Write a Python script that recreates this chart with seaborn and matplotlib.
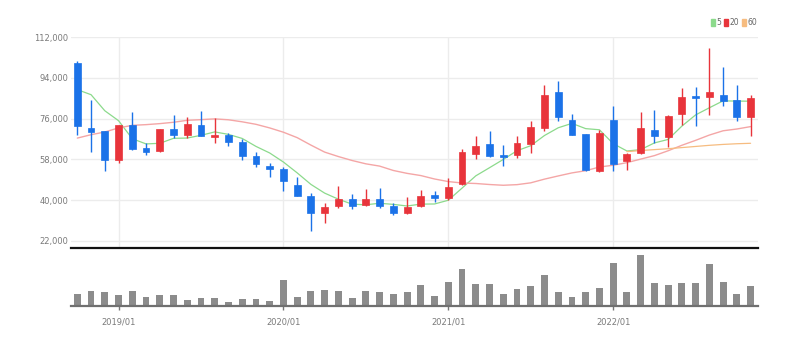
import numpy as np
import pandas as pd
import matplotlib
matplotlib.use("Agg")
import matplotlib.pyplot as plt
from matplotlib.patches import Patch
from matplotlib.ticker import FuncFormatter
import seaborn as sns

# Monthly candles, 2018/10 .. 2022/11
months = pd.period_range("2018-10", "2022-11", freq="M")

opens = [100640, 71875, 70550, 57870, 73200, 62870, 61700, 71580, 68630, 73350,
         68100, 68630, 65530, 59480, 55210, 53880, 46500, 41640, 34110, 37210,
         40450, 37660, 40600, 37210, 34260, 37210, 42380, 40900, 47240, 60370,
         64940, 60080, 60080, 64790, 71880, 87800, 75560, 69220, 52700, 75410,
         57420, 60810, 71140, 67740, 78220, 86180, 85600, 86630, 84270, 76740]
closes = [72610, 69960, 57570, 73050, 62435, 61100, 71285, 68630, 73650, 68480,
          68630, 65830, 59630, 56090, 53880, 48570, 41930, 34110, 36770, 40450,
          37510, 40600, 37510, 34260, 36920, 41640, 40900, 45770, 61100, 64060,
          59630, 59190, 65090, 72170, 86630, 76740, 68930, 53440, 69660, 55940,
          60520, 71880, 68330, 77330, 85450, 85300, 87660, 83680, 76740, 85300]
highs = [101670, 84410, 70700, 73400, 78950, 65240, 71400, 77780, 76600, 79250,
         76300, 69660, 67150, 61260, 56240, 54470, 50050, 43110, 38690, 46060,
         42670, 44880, 45330, 38690, 41200, 44590, 43850, 49750, 62580, 68480,
         70400, 64200, 68180, 75120, 91050, 92530, 78070, 69220, 71140, 81760,
         60960, 78800, 79990, 77780, 89580, 90020, 107270, 98720, 91050, 86630]
lows = [68930, 61260, 52700, 56400, 62000, 60080, 61250, 67450, 67450, 68200,
        65240, 64060, 57860, 54620, 50050, 43850, 41640, 26150, 29840, 36480,
        36180, 37210, 36480, 33520, 33970, 36920, 39130, 40160, 46800, 58160,
        59190, 54910, 58600, 60810, 70400, 75120, 68630, 53000, 52260, 52700,
        53440, 60370, 65240, 63320, 73350, 72610, 77780, 81460, 74830, 68480]

# Moving averages of the close (5, 20 and 60 months)
ma5 = [88840, 86600, 79500, 75100, 67125, 64823, 65088, 67300, 67420, 68629,
       70135, 69044, 67244, 63732, 60812, 56800, 52020, 46916, 43052, 40366,
       38154, 37888, 38568, 38066, 37360, 38186, 38246, 39898, 45266, 50694,
       54292, 57950, 61814, 64028, 68542, 71964, 73912, 71582, 71080, 64942,
       61698, 62288, 65266, 66800, 72702, 77658, 80814, 83884, 83766, 83736]
ma20 = [67400, 68900, 70100, 71900, 73050, 73350, 73800, 74400, 75270, 75560,
        75900, 75500, 74600, 73500, 71900, 70000, 67600, 64300, 61200, 59233,
        57478, 56010, 55007, 53068, 51792, 50819, 49300, 48157, 47529, 47308,
        46858, 46526, 46799, 47603, 49241, 50649, 51999, 52966, 54610, 55385,
        56535, 58099, 59640, 61794, 64220, 66403, 68741, 70637, 71419, 72481]
ma60 = [61400, 61900, 62300, 62700, 63200, 63700, 64200, 64600, 64900, 65100]
ma60_start = 40

# Monthly trading volume (thousand shares)
volume = [36, 46, 41, 32, 46, 27, 32, 32, 17, 25,
          25, 13, 22, 20, 16, 78, 27, 46, 49, 44,
          25, 44, 41, 35, 41, 63, 29, 71, 111, 65,
          67, 35, 50, 59, 93, 41, 27, 41, 55, 129,
          43, 154, 69, 62, 69, 69, 125, 72, 35, 59]

price_ticks = [22000, 40000, 58000, 76000, 94000, 112000]

RED = "#e8343b"
BLUE = "#1b72e8"
GREEN = "#8cda8c"
PINK = "#f4a6a6"
ORANGE = "#f6bc80"
GRID = "#ececec"
LABEL = "#7a7a7a"

sns.set_theme(style="white")
plt.rcParams["font.family"] = ["Liberation Sans Narrow", "DejaVu Sans"]

W, H = 804, 344
fig = plt.figure(figsize=(W / 100, H / 100), dpi=100)
ax = fig.add_axes([71 / W, 1 - 247.5 / H, 687 / W, 210.2 / H])
axv = fig.add_axes([71 / W, 1 - 306 / H, 687 / W, 56 / H])

x = np.arange(len(months))
o = np.array(opens, float)
c = np.array(closes, float)
hi = np.array(highs, float)
lo = np.array(lows, float)
colors = np.where(c >= o, RED, BLUE)

# moving-average lines
sns.lineplot(x=x, y=ma5, ax=ax, color=GREEN, lw=0.9, zorder=2)
sns.lineplot(x=x, y=ma20, ax=ax, color=PINK, lw=1.0, zorder=2)
sns.lineplot(x=x[ma60_start:], y=ma60, ax=ax, color=ORANGE, lw=0.9, zorder=2)

# candles: wicks then bodies
ax.vlines(x, lo, hi, colors=colors, lw=1, zorder=3)
ax.bar(x, np.abs(c - o), bottom=np.minimum(o, c), width=0.5,
       color=colors, edgecolor=colors, lw=0.5, zorder=4)

year_pos = [i for i, m in enumerate(months) if m.month == 1]
year_lbl = [months[i].strftime("%Y/%m") for i in year_pos]

ax.set_xlim(-0.46, len(x) - 0.46)
ax.set_ylim(112000 - 210.2 * 442.5, 112000)
ax.set_yticks(price_ticks)
ax.yaxis.set_major_formatter(FuncFormatter(lambda v, p: f"{v:,.0f}"))
ax.set_xticks(year_pos)
ax.grid(True, color=GRID, lw=1)
ax.set_axisbelow(True)
ax.tick_params(axis="x", length=0, labelbottom=False)
ax.tick_params(axis="y", length=0, pad=2, labelsize=6, labelcolor=LABEL)
for s in ("top", "left", "right"):
    ax.spines[s].set_visible(False)
ax.spines["bottom"].set_color("#111111")
ax.spines["bottom"].set_linewidth(1.6)
ax.set_xlabel("")
ax.set_ylabel("")

# volume panel
vol_df = pd.DataFrame({"month": x, "volume": volume})
sns.barplot(data=vol_df, x="month", y="volume", ax=axv, color="#8c8c8c",
            saturation=1, width=0.5, linewidth=0)
axv.set_xlim(-0.46, len(x) - 0.46)
axv.set_ylim(0, 168)
axv.set_yticks([])
axv.set_xticks(year_pos)
axv.set_xticklabels(year_lbl)
axv.tick_params(axis="x", bottom=True, length=3, width=1, color="#777777",
                direction="out", pad=5, labelsize=6, labelcolor=LABEL)
for s in ("top", "left", "right"):
    axv.spines[s].set_visible(False)
axv.spines["bottom"].set_color("#707070")
axv.spines["bottom"].set_linewidth(1.6)
axv.set_xlabel("")
axv.set_ylabel("")

handles = [Patch(color=GREEN, label="5"), Patch(color=RED, label="20"),
           Patch(color=ORANGE, label="60")]
fig.legend(handles=handles, loc="upper right", bbox_to_anchor=(757 / W, 1 - 18 / H),
           ncol=3, frameon=False, handlelength=0.5, handleheight=1.1,
           handletextpad=0.2, columnspacing=0.35, fontsize=5.5, borderpad=0,
           borderaxespad=0, labelcolor="#666666")

fig.savefig("out.png", dpi=100)
